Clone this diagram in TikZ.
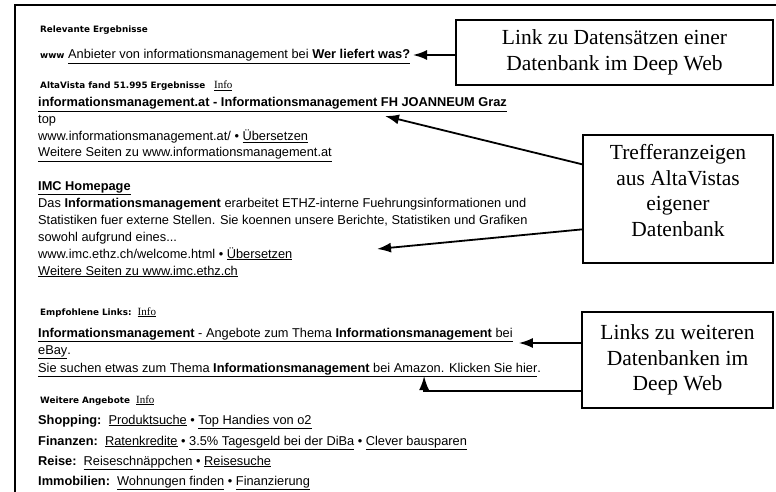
\documentclass[tikz,border=0pt]{standalone}
\usepackage{fontspec}
\setmainfont{Liberation Sans}
\newfontfamily\kopffamily{DejaVu Sans}
\newfontfamily\kastenfamily{Liberation Serif}
\usetikzlibrary{arrows.meta, calc}

\newcommand{\ulink}[1]{\underline{#1}}
\newcommand{\bodyfont}{\fontsize{12.8}{17}\selectfont}
\newcommand{\kopffont}{\kopffamily\bfseries\fontsize{8.8}{10}\selectfont}
\newcommand{\kastenfont}{\kastenfamily\fontsize{21.5}{25.5}\selectfont}
\newcommand{\infolink}{\kastenfamily\mdseries\fontsize{11}{12}\selectfont\ulink{Info}}

\tikzset{
    zeile/.style={anchor=base west, inner sep=0pt, font=\bodyfont},
    kopf/.style={anchor=base west, inner sep=0pt, font=\kopffont},
    kasten/.style={draw, line width=1.3pt, align=center, font=\kastenfont, inner sep=0pt},
    pfeil/.style={line width=1.8pt, -{Latex[length=14pt, width=10pt]}}
}

\begin{document}
\begin{tikzpicture}[x=1pt, y=-1pt]
        \useasboundingbox (0, 0) rectangle (776, 492);
        \draw[line width=1.2pt] (776, 5) -- (15, 5) -- (15, 492);

        \node[kopf] (relevant) at (40, 33) {Relevante Ergebnisse};
        \node[kopf] (www) at (40, 59) {www};
        \node[zeile] (anbieter) at (68, 59) {\ulink{Anbieter von informationsmanagement bei \textbf{Wer liefert was?}}};
        \node[kopf] (fund) at (40, 89) {AltaVista fand 51.995 Ergebnisse\quad\infolink};
        \node[zeile] (treffer1) at (38, 107) {\ulink{\textbf{informationsmanagement.at - Informationsmanagement FH JOANNEUM Graz}}};
        \node[zeile] (top) at (38, 124) {top};
        \node[zeile] (url1) at (38, 141) {www.informationsmanagement.at/ • \ulink{Übersetzen}};
        \node[zeile] (weitere1) at (38, 157) {\ulink{Weitere Seiten zu www.informationsmanagement.at}};
        \node[zeile] (imc) at (38, 190) {\ulink{\textbf{IMC Homepage}}};
        \node[zeile] (imc1) at (38, 207) {Das \textbf{Informationsmanagement} erarbeitet ETHZ-interne Fuehrungsinformationen und};
        \node[zeile] (imc2) at (38, 224) {Statistiken fuer externe Stellen. Sie koennen unsere Berichte, Statistiken und Grafiken};
        \node[zeile] (imc3) at (38, 241) {sowohl aufgrund eines...};
        \node[zeile] (url2) at (38, 258) {www.imc.ethz.ch/welcome.html • \ulink{Übersetzen}};
        \node[zeile] (weitere2) at (38, 275) {\ulink{Weitere Seiten zu www.imc.ethz.ch}};
        \node[kopf] (empfohlen) at (40, 315) {Empfohlene Links:\ \ \infolink};
        \node[zeile] (ebay1) at (38, 337) {\ulink{\textbf{Informationsmanagement} - Angebote zum Thema \textbf{Informationsmanagement} bei}};
        \node[zeile] (ebay2) at (38, 354) {\ulink{eBay}.};
        \node[zeile] (amazon) at (38, 372) {\ulink{Sie suchen etwas zum Thema \textbf{Informationsmanagement} bei Amazon. Klicken Sie hier}.};
        \node[kopf] (angebote) at (40, 403) {Weitere Angebote\ \ \infolink};
        \node[zeile] (shopping) at (38, 424) {\textbf{Shopping:}\ \ \ulink{Produktsuche} • \ulink{Top Handies von o2}};
        \node[zeile] (finanzen) at (38, 445) {\textbf{Finanzen:}\ \ \ulink{Ratenkredite} • \ulink{3.5\% Tagesgeld bei der DiBa} • \ulink{Clever bausparen}};
        \node[zeile] (reise) at (38, 465) {\textbf{Reise:}\ \ \ulink{Reiseschnäppchen} • \ulink{Reisesuche}};
        \node[zeile] (immo) at (38, 485) {\textbf{Immobilien:}\ \ \ulink{Wohnungen finden} • \ulink{Finanzierung}};

        \node[kasten, minimum width=317pt, minimum height=65pt] (deepweb) at (614.5, 52.5) {Link zu Datensätzen einer\\Datenbank im Deep Web};
        \node[kasten, minimum width=190pt, minimum height=128pt, text depth=17pt] (eigen) at (678, 199) {Trefferanzeigen\\aus AltaVistas\\eigener\\Datenbank};
        \node[kasten, minimum width=191pt, minimum height=96pt] (weitere) at (677.5, 360) {Links zu weiteren\\Datenbanken im\\Deep Web};

        \coordinate (ziel1) at (413, 55);
        \coordinate (ziel2) at (385, 116);
        \coordinate (ziel3) at (377, 249);
        \coordinate (ziel4) at ([xshift=6pt, yshift=-6pt]ebay1.base east);
        \coordinate (ziel5) at ([xshift=-117pt, yshift=-4pt]amazon.base east);

        \draw[pfeil] (deepweb.west |- ziel1) -- (ziel1);
        \draw[pfeil] ([yshift=-30pt]eigen.north west) -- (ziel2);
        \draw[pfeil] ([yshift=-95pt]eigen.north west) -- (ziel3);
        \draw[pfeil] (weitere.west |- ziel4) -- (ziel4);
        \draw[pfeil] ([yshift=-80pt]weitere.north west) -| (ziel5);
    \end{tikzpicture}
\end{document}
